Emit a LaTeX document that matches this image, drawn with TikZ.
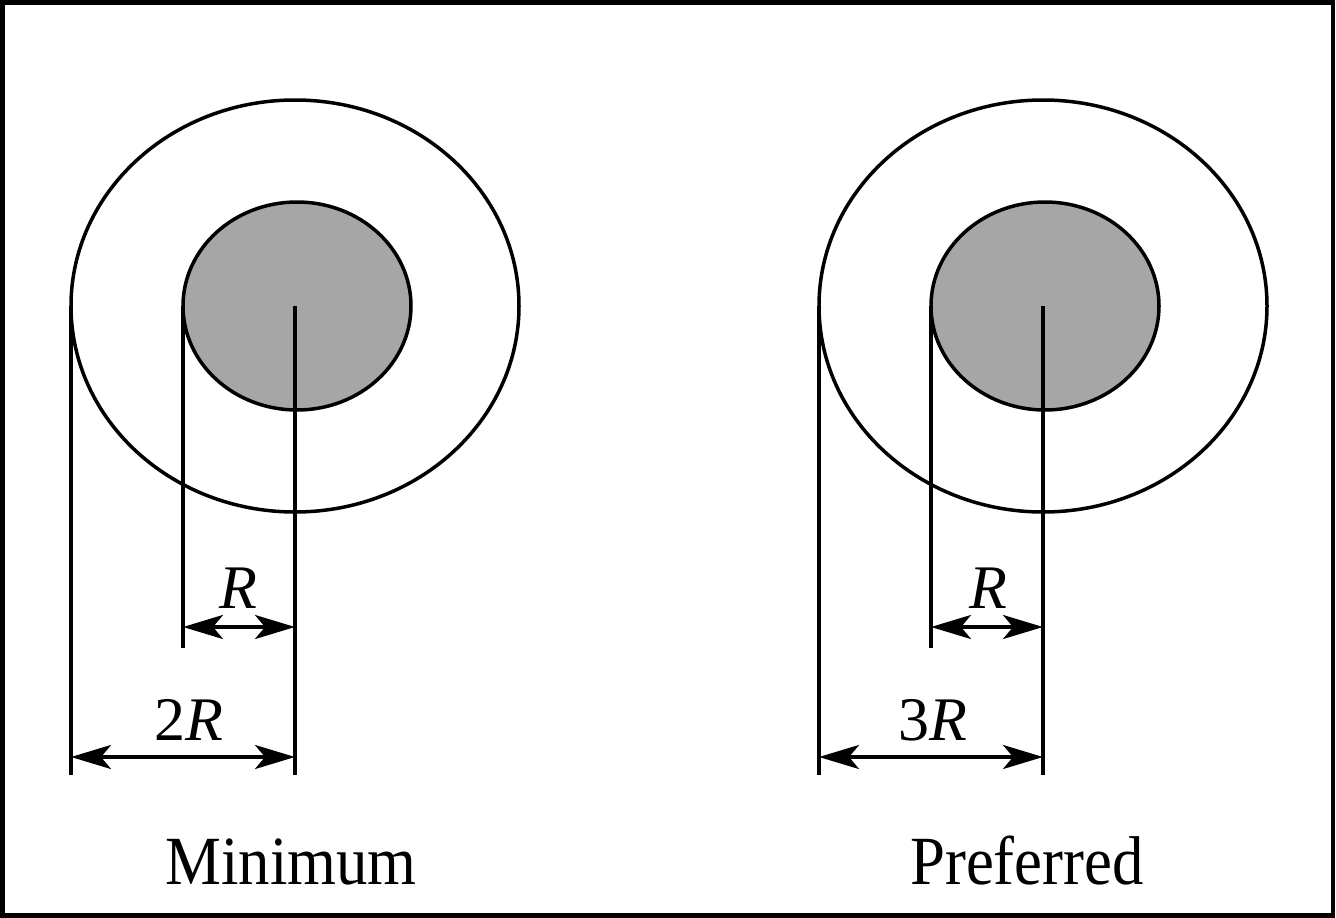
\documentclass[tikz,border=0pt]{standalone}
\usepackage{fontspec}
\setmainfont{Liberation Serif}
\usetikzlibrary{arrows.meta}
\begin{document}
\begin{tikzpicture}[x=1pt,y=-1pt,
  ln/.style={line width=3.5pt},
  dim/.style={line width=3.5pt,{Stealth[length=40pt,width=24pt,inset=10pt]}-{Stealth[length=40pt,width=24pt,inset=10pt]}},
  lbl/.style={font=\fontsize{62}{66}\selectfont,inner sep=0pt,anchor=base},
  captext/.style={font=\fontsize{69}{72}\selectfont,inner sep=0pt,anchor=base}]
\useasboundingbox (0,0) rectangle (1336,918);
\draw[line width=4.5pt] (2.5,2.5) rectangle (1333,915.5);
% left
\draw[ln] (295,306) ellipse [x radius=224, y radius=206];
\draw[ln,fill={rgb,255:red,166;green,166;blue,166}] (297,306) ellipse [x radius=114, y radius=104];
\coordinate (lc) at (295,306);
\coordinate (lcb) at (295,775);
\coordinate (li) at (183,306);
\coordinate (lib) at (183,648);
\coordinate (lo) at (71,306);
\coordinate (lob) at (71,775);
\draw[ln] (lc) -- (lcb);
\draw[ln] (li) -- (lib);
\draw[ln] (lo) -- (lob);
\coordinate (lr1) at (183,627);
\coordinate (lr2) at (295,627);
\coordinate (l2r1) at (71,757);
\coordinate (l2r2) at (295,757);
\draw[dim] (lr1) -- (lr2);
\draw[dim] (l2r1) -- (l2r2);
\node[lbl] (lR) at (238,608) {\textit{R}};
\node[lbl] (l2R) at (189,740) {2\textit{R}};
\node[captext] (min) at (291,884) {\scalebox{0.91}[1]{Minimum}};
% right
\draw[ln] (1043,306) ellipse [x radius=224, y radius=206];
\draw[ln,fill={rgb,255:red,166;green,166;blue,166}] (1045,306) ellipse [x radius=114, y radius=104];
\coordinate (rc) at (1043,306);
\coordinate (rcb) at (1043,775);
\coordinate (ri) at (931,306);
\coordinate (rib) at (931,648);
\coordinate (ro) at (819,306);
\coordinate (rob) at (819,775);
\draw[ln] (rc) -- (rcb);
\draw[ln] (ri) -- (rib);
\draw[ln] (ro) -- (rob);
\coordinate (rr1) at (931,627);
\coordinate (rr2) at (1043,627);
\coordinate (r3r1) at (819,757);
\coordinate (r3r2) at (1043,757);
\draw[dim] (rr1) -- (rr2);
\draw[dim] (r3r1) -- (r3r2);
\node[lbl] (rR) at (988,608) {\textit{R}};
\node[lbl] (r3R) at (933,740) {3\textit{R}};
\node[captext] (pref) at (1027,884) {\scalebox{0.91}[1]{Preferred}};
\end{tikzpicture}
\end{document}
